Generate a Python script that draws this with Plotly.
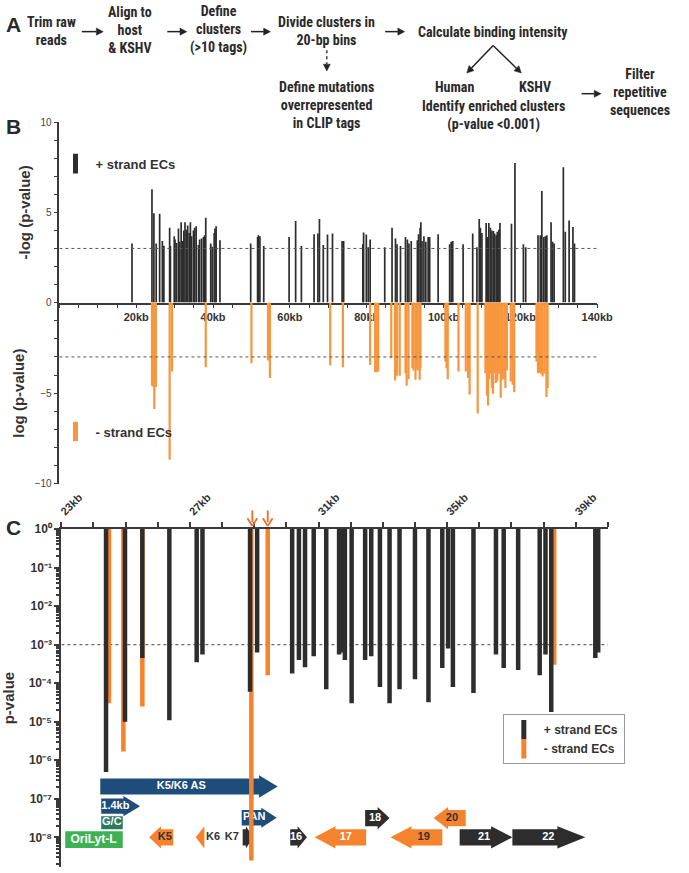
import math
import plotly.graph_objects as go

W, H = 689, 873
def px(x):
    return x / W
def py(y):
    return 1 - y / H

# ---------------- Panel B data (KSHV genome, kb) ----------------
plus_kb = [18.9, 24.1, 24.6, 25.2, 26.1, 26.8, 27.2, 28.7, 28.9, 29.9,
           30.1, 30.5, 31.0, 31.3, 31.7, 32.1, 32.4, 32.7, 33.1, 33.4,
           33.8, 34.1, 34.4, 34.9, 35.2, 35.6, 36.2, 36.5, 37.0, 37.5,
           37.8, 38.1, 39.4, 39.8, 40.3, 40.5, 40.8, 41.8, 49.8, 51.6,
           51.8, 52.2, 53.2, 59.8, 61.5, 63.0, 66.3, 67.3, 67.7, 68.7,
           69.8, 71.1, 73.6, 74.0, 79.0, 79.2, 79.9, 80.4, 80.9, 84.7,
           86.6, 87.5, 87.9, 88.8, 90.1, 90.6, 91.0, 91.6, 93.2, 93.5,
           93.9, 94.1, 94.4, 94.9, 95.4, 96.0, 96.4, 98.6, 101.6, 102.0,
           102.4, 105.1, 107.6, 108.7, 109.3, 109.6, 110.0, 111.1, 111.5, 111.8,
           112.2, 112.6, 113.0, 113.3, 113.7, 114.0, 114.4, 114.7, 117.7, 118.6,
           120.8, 121.4, 124.6, 125.2, 125.6, 126.1, 126.5, 126.9, 128.0, 128.4,
           128.8, 131.2, 131.7, 132.7, 133.7, 134.1]
plus_neglogp = [3.28, 6.28, 4.95, 3.28, 4.92, 3.42, 3.15, 4.15, 3.13, 3.68,
                3.50, 3.30, 4.10, 3.37, 4.46, 3.42, 4.00, 4.46, 4.04, 4.28,
                3.86, 4.46, 3.68, 4.00, 4.15, 4.23, 3.19, 3.50, 3.55, 3.64,
                3.73, 4.70, 3.28, 3.10, 3.86, 4.10, 4.23, 3.46, 3.28, 3.64,
                3.73, 3.68, 3.13, 3.64, 4.52, 3.13, 3.79, 3.83, 4.64, 3.19,
                3.77, 3.83, 3.42, 3.42, 3.24, 3.88, 3.77, 3.06, 3.50, 3.06,
                4.15, 3.55, 3.24, 3.13, 3.64, 3.50, 3.28, 3.42, 3.46, 3.79,
                4.15, 4.46, 3.42, 3.68, 3.37, 3.64, 3.64, 3.79, 3.24, 3.37,
                3.42, 3.24, 3.83, 3.06, 4.64, 4.15, 3.86, 4.41, 3.64, 4.41,
                4.15, 4.00, 3.97, 3.83, 3.73, 3.92, 4.04, 4.41, 4.37, 7.74,
                3.24, 3.06, 3.73, 3.73, 6.19, 3.64, 3.68, 3.73, 4.46, 3.37,
                3.28, 7.50, 3.92, 4.55, 4.19, 3.28]

minus_kb = [24.1, 24.5, 24.7, 25.1, 28.7, 29.3, 38.1, 50.0, 54.3, 54.8,
            70.5, 73.8, 80.9, 82.2, 82.6, 83.0, 86.4, 87.4, 87.9, 88.6,
            90.1, 90.4, 90.9, 91.9, 92.2, 92.7, 93.0, 93.3, 93.8, 94.0,
            100.5, 100.8, 101.1, 103.9, 105.8, 106.4, 106.8, 108.9, 110.9, 111.3,
            111.6, 111.9, 112.2, 112.6, 112.9, 113.2, 113.6, 114.0, 114.4, 114.9,
            115.3, 115.8, 116.1, 116.5, 117.5, 118.0, 118.4, 124.2, 124.6, 124.9,
            125.4, 125.8, 126.3, 126.8, 127.1]
minus_logp = [-4.59, -4.66, -5.87, -4.66, -8.67, -3.81, -3.57, -3.35, -3.20, -4.17,
              -3.48, -3.57, -3.44, -3.84, -3.84, -3.81, -3.08, -4.30, -4.04, -4.04,
              -3.90, -4.59, -4.23, -3.62, -3.75, -4.26, -3.62, -3.75, -4.26, -3.62,
              -3.26, -3.62, -4.23, -3.81, -3.81, -4.17, -5.08, -6.12, -3.90, -5.14,
              -5.68, -4.23, -3.93, -4.72, -5.03, -3.90, -4.44, -4.35, -3.93, -5.26,
              -4.26, -4.23, -4.72, -3.75, -4.35, -4.54, -4.95, -3.26, -3.90, -3.86,
              -3.93, -4.08, -3.93, -5.21, -4.72]
b_threshold = 3
b_xticks = [20, 40, 60, 80, 100, 120, 140]

# ---------------- Panel C data (23-40 kb) ----------------
c_plus_kb = [24.39, 24.98, 25.52, 26.36, 27.21, 27.39, 28.87, 29.09, 30.18, 30.39,
             30.58, 30.85, 31.24, 31.64, 31.73, 31.82, 32.03, 32.45, 32.64, 32.91,
             33.21, 33.52, 34.00, 34.42, 34.85, 35.03, 35.18, 35.82, 36.52, 36.76,
             37.21, 37.88, 38.06, 38.24, 39.61, 39.70]
c_plus_p = [5e-7, 1e-5, 4.5e-4, 1.1e-5, 3.5e-4, 5.6e-4, 6e-5, 6.3e-4, 1.8e-4, 4e-4,
            2.6e-4, 5e-4, 7e-5, 5.6e-4, 6.3e-4, 4e-4, 3e-5, 4e-4, 5e-4, 8e-5,
            3e-5, 7e-5, 1.26e-4, 3.2e-5, 2.5e-4, 8e-4, 8e-5, 5.6e-5, 5.6e-4, 2.5e-4,
            2.2e-4, 1.6e-4, 5.6e-4, 1.8e-5, 4.5e-4, 6.3e-4]
c_minus_kb = [24.48, 24.93, 25.52, 28.91, 29.42, 38.33]
c_minus_p = [3e-5, 1.7e-6, 2.5e-5, 2.5e-9, 1.6e-4, 3e-4]
c_threshold = 1e-3
c_arrow_kb = [28.94, 29.42]
c_xticks = [23, 27, 31, 35, 39]

gene_names = ["K5/K6 AS", "1.4kb", "PAN", "G/C", "OriLyt-L", "K5", "K6", "K7",
              "16", "17", "18", "19", "20", "21", "22"]
gene_start = [24.21, 24.24, 28.61, 24.24, 23.12, 25.73, 27.18, 28.64,
              30.12, 30.88, 32.45, 33.24, 34.58, 35.39, 37.03]
gene_end = [29.73, 25.45, 29.70, 24.91, 24.91, 26.48, 27.45, 28.97,
            30.64, 32.48, 33.21, 34.85, 35.58, 37.03, 39.30]
gene_strand = [1, 1, 1, 0, 0, -1, -1, 1, 1, -1, 1, -1, -1, 1, 1]
gene_kind = ["ncRNA", "ncRNA", "ncRNA", "gc", "ori", "orf", "orf", "orf",
             "orf", "orf", "orf", "orf", "orf", "orf", "orf"]
gene_track = [-6.68, -7.19, -7.49, -7.62, -8.06, -8.0, -8.0, -8.0,
              -8.0, -8.0, -7.5, -8.0, -7.5, -8.0, -8.0]   # log10 track level
gene_label_kb = [26.73, 24.68, 29.0, 24.57, 24.0, 26.22, 27.72, 28.30,
                 30.30, 31.85, 32.76, 34.27, 35.15, 36.15, 38.15]

# ---------------- styles ----------------
DARK = "#2d2d2d"
ORANGE_B = "#f7963e"
ORANGE_C = "#f5822d"
NAVY = "#1f4d7b"
GC_GREEN = "#2c7a5e"
ORI_GREEN = "#3db153"
AXIS = "#3a3a3a"
TXT = "#333333"
FONT = "Liberation Sans, Arial, sans-serif"
NARROW = "Liberation Sans Narrow, Arial Narrow, Roboto Condensed, Roboto, Liberation Sans, sans-serif"
SUP = str.maketrans("0123456789-", "⁰¹²³⁴⁵⁶⁷⁸⁹⁻")


def segs(xs, ys, base):
    X, Y = [], []
    for x, y in zip(xs, ys):
        X += [x, x, None]
        Y += [base, y, None]
    return X, Y


fig = go.Figure()

# ---------- Panel B ----------
X, Y = segs(plus_kb, plus_neglogp, 0)
fig.add_trace(go.Scatter(x=X, y=Y, mode="lines", line=dict(color=DARK, width=1.7),
                         xaxis="x", yaxis="y", showlegend=False, hoverinfo="skip"))
X, Y = segs(minus_kb, minus_logp, 0)
fig.add_trace(go.Scatter(x=X, y=Y, mode="lines", line=dict(color=ORANGE_B, width=2.2),
                         xaxis="x", yaxis="y2", showlegend=False, hoverinfo="skip"))
fig.add_trace(go.Scatter(x=[0, 140], y=[b_threshold, b_threshold], mode="lines",
                         line=dict(color="#555", width=1, dash="dot"),
                         xaxis="x", yaxis="y", showlegend=False, hoverinfo="skip"))
fig.add_trace(go.Scatter(x=[0, 140], y=[-b_threshold, -b_threshold], mode="lines",
                         line=dict(color="#555", width=1, dash="dot"),
                         xaxis="x", yaxis="y2", showlegend=False, hoverinfo="skip"))
fig.add_trace(go.Scatter(x=[None], y=[None], mode="markers", name="+ strand ECs",
                         marker=dict(symbol="line-ns", size=14, line=dict(width=5, color=DARK)),
                         xaxis="x", yaxis="y", legend="legend"))
fig.add_trace(go.Scatter(x=[None], y=[None], mode="markers", name="- strand ECs",
                         marker=dict(symbol="line-ns", size=14, line=dict(width=5, color=ORANGE_B)),
                         xaxis="x", yaxis="y2", legend="legend2"))

# ---------- Panel C ----------
fig.add_trace(go.Scatter(x=[23, 40], y=[c_threshold, c_threshold], mode="lines",
                         line=dict(color="#444", width=1, dash="dot"),
                         xaxis="x2", yaxis="y3", showlegend=False, hoverinfo="skip"))

kind_color = {"ncRNA": NAVY, "gc": GC_GREEN, "ori": ORI_GREEN}
for i, name in enumerate(gene_names):
    s, e, st, lv = gene_start[i], gene_end[i], gene_strand[i], gene_track[i]
    if gene_kind[i] == "orf":
        col = DARK if st > 0 else ORANGE_C
    else:
        col = kind_color[gene_kind[i]]
    bh, hh = (0.21, 0.29) if gene_kind[i] != "ncRNA" or name == "K5/K6 AS" else (0.2, 0.26)
    head = min(0.33 * (e - s) + 0.12, e - s) if st != 0 else 0
    if name == "K6":
        head = e - s
    if name == "K5/K6 AS":
        head = 0.58
    if st == 0:
        bh = 0.17 if gene_kind[i] == "gc" else 0.22
        xs = [s, e, e, s, s]
        es = [lv - bh, lv - bh, lv + bh, lv + bh, lv - bh]
    elif st > 0:
        b = e - head
        xs = [s, b, b, e, b, b, s, s]
        es = [lv - bh, lv - bh, lv - hh, lv, lv + hh, lv + bh, lv + bh, lv - bh]
    else:
        b = s + head
        xs = [e, b, b, s, b, b, e, e]
        es = [lv - bh, lv - bh, lv - hh, lv, lv + hh, lv + bh, lv + bh, lv - bh]
    fig.add_trace(go.Scatter(x=xs, y=[10 ** v for v in es], mode="lines", fill="toself",
                             fillcolor=col, line=dict(width=0, color=col),
                             xaxis="x2", yaxis="y3", showlegend=False, hoverinfo="skip"))

for i, name in enumerate(gene_names):
    outside = name in ("K6", "K7")
    dark_text = outside or name in ("K5", "19", "20")
    fig.add_trace(go.Scatter(x=[gene_label_kb[i]], y=[10 ** gene_track[i]], mode="text",
                             text=[name],
                             textfont=dict(family=FONT, size=12 if name == "OriLyt-L" else 11,
                                           color=TXT if dark_text else "white", weight="bold"),
                             xaxis="x2", yaxis="y3", showlegend=False, hoverinfo="skip"))

X, Y = segs(c_minus_kb, c_minus_p, 1)
fig.add_trace(go.Scatter(x=X, y=Y, mode="lines", line=dict(color=ORANGE_C, width=4.5),
                         xaxis="x2", yaxis="y3", showlegend=False, hoverinfo="skip"))
X, Y = segs(c_plus_kb, c_plus_p, 1)
fig.add_trace(go.Scatter(x=X, y=Y, mode="lines", line=dict(color=DARK, width=4.5),
                         xaxis="x2", yaxis="y3", showlegend=False, hoverinfo="skip"))
fig.add_trace(go.Scatter(x=[None], y=[None], mode="markers", name="+ strand ECs",
                         marker=dict(symbol="line-ns", size=14, line=dict(width=5, color=DARK)),
                         xaxis="x2", yaxis="y3", legend="legend3"))
fig.add_trace(go.Scatter(x=[None], y=[None], mode="markers", name="- strand ECs",
                         marker=dict(symbol="line-ns", size=14, line=dict(width=5, color=ORANGE_C)),
                         xaxis="x2", yaxis="y3", legend="legend3"))

# ---------- annotations & drawn arrows ----------
ann = []
shapes = []

def text(t, x, y, size=14, family=NARROW, color="#2a2a2a"):
    ann.append(dict(text=t, x=px(x), y=py(y), xref="paper", yref="paper", showarrow=False,
                    xanchor="center", yanchor="middle", align="center",
                    font=dict(family=family, size=size, color=color, weight="bold")))

def arrow(x0, y0, x1, y1, color="#222", width=1.5, head=7.0, half=3.6, dash=None):
    dx, dy = x1 - x0, y1 - y0
    L = math.hypot(dx, dy)
    ux, uy = dx / L, dy / L
    bx, by = x1 - ux * head, y1 - uy * head
    line = dict(color=color, width=width)
    if dash:
        line["dash"] = dash
    shapes.append(dict(type="line", xref="paper", yref="paper",
                       x0=px(x0), y0=py(y0), x1=px(bx), y1=py(by), line=line))
    pts = [(x1, y1), (bx - uy * half, by + ux * half), (bx + uy * half, by - ux * half)]
    path = "M %.5f %.5f L %.5f %.5f L %.5f %.5f Z" % tuple(
        v for p in pts for v in (px(p[0]), py(p[1])))
    shapes.append(dict(type="path", xref="paper", yref="paper", path=path,
                       fillcolor=color, line=dict(color=color, width=0.5)))

# panel letters
text("A", 11, 18, size=21, family=FONT)
text("B", 11, 121, size=21, family=FONT)
text("C", 11, 528, size=21, family=FONT)

# panel A flow chart
text("Trim raw<br>reads", 50, 24)
arrow(81, 25, 103, 25)
text("Align to<br>host<br>& KSHV", 131, 23)
arrow(169, 25, 189, 25)
text("Define<br>clusters<br>(>10 tags)", 222, 23)
arrow(255, 25, 275, 25)
text("Divide clusters in<br>20-bp bins", 333, 24)
arrow(393, 25, 413, 25)
text("Calculate binding intensity", 504, 25)
text("Define mutations<br>overrepresented<br>in CLIP tags", 333, 99)
arrow(504, 39, 477, 67)
arrow(504, 39, 533, 67)
text("Human", 464, 81)
text("KSHV", 547, 81)
text("Identify enriched clusters<br>(p-value <0.001)", 504, 110)
arrow(595, 88, 615, 88)
text("Filter<br>repetitive<br>sequences", 655, 86)
arrow(333, 44, 333, 65, width=1.3, dash="dot")

# arrows in panel C pointing at the PAN-region ECs (x in data units)
for k in c_arrow_kb:
    shapes.append(dict(type="line", xref="x2", yref="paper", x0=k, x1=k,
                       y0=py(511), y1=py(523), line=dict(color="#f26b2a", width=1.8)))
    shapes.append(dict(type="line", xref="x2", yref="paper", x0=k - 0.15, x1=k,
                       y0=py(519), y1=py(527), line=dict(color="#f26b2a", width=1.8)))
    shapes.append(dict(type="line", xref="x2", yref="paper", x0=k + 0.15, x1=k,
                       y0=py(519), y1=py(527), line=dict(color="#f26b2a", width=1.8)))

b_ticktext = ["%dkb" % v for v in b_xticks]
c_ticktext = ["%dkb" % v for v in c_xticks]
dec_vals = [10 ** (-k) for k in range(0, 9)]
dec_text = ["10" + str(-k).translate(SUP) for k in range(0, 9)]
minor_vals = [m * 10 ** (-k) for k in range(1, 10) for m in range(2, 10)]

axis_common = dict(showgrid=False, zeroline=False, showline=True, linecolor=AXIS,
                   ticks="outside", tickcolor=AXIS)

fig.update_layout(
    width=W, height=H, margin=dict(l=0, r=0, t=0, b=0),
    paper_bgcolor="white", plot_bgcolor="white",
    font=dict(family=FONT, color=TXT),
    annotations=ann, shapes=shapes,
    xaxis=dict(domain=[px(58), px(611)], range=[0, 140], anchor="y",
               tickvals=b_xticks, ticktext=b_ticktext, ticklen=4, linewidth=1.5,
               minor=dict(dtick=5, tick0=0, ticks="outside", ticklen=4, tickcolor=AXIS),
               tickfont=dict(size=11, color=TXT, weight="bold"), **axis_common),
    yaxis=dict(domain=[py(300), py(117)], range=[0, 10], anchor="x",
               tickvals=[0, 5, 10], ticklen=4, linewidth=1.5,
               minor=dict(dtick=1, tick0=0, ticks="outside", ticklen=4, tickcolor=AXIS),
               tickfont=dict(size=10, color="#444"),
               title=dict(text="-log (p-value)", font=dict(size=15, color=TXT, weight="bold"),
                          standoff=6),
               **axis_common),
    yaxis2=dict(domain=[py(484), py(300)], range=[-10, 0], anchor="x",
                tickvals=[-10, -5], ticklen=4, linewidth=1.5,
                minor=dict(dtick=1, tick0=0, ticks="outside", ticklen=4, tickcolor=AXIS),
                tickfont=dict(size=10, color="#444"),
                title=dict(text="log (p-value)", font=dict(size=15, color=TXT, weight="bold"),
                           standoff=6),
                **axis_common),
    xaxis2=dict(domain=[px(60), px(622)], range=[23, 40], anchor="y3", side="top",
                tickvals=c_xticks, ticktext=c_ticktext, tickangle=-45, ticklen=5,
                linewidth=2, tickwidth=1.5,
                minor=dict(dtick=1, tick0=23, ticks="outside", ticklen=5, tickwidth=1.5,
                           tickcolor=AXIS),
                tickfont=dict(size=11, color=TXT, weight="bold"), **axis_common),
    yaxis3=dict(domain=[0, py(530)], type="log", range=[-8.77, 0], anchor="x2",
                tickvals=dec_vals, ticktext=dec_text, ticklen=5, linewidth=2, tickwidth=1.5,
                tickfont=dict(size=12, color=TXT, weight="bold"),
                minor=dict(tickvals=minor_vals, ticks="outside", ticklen=3, tickcolor=AXIS),
                title=dict(text="p-value", font=dict(size=15, color=TXT, weight="bold"),
                           standoff=10),
                **axis_common),
    legend=dict(x=px(54), y=py(159), xanchor="left", yanchor="middle",
                bgcolor="rgba(0,0,0,0)", borderwidth=0,
                font=dict(size=13, color=TXT, weight="bold")),
    legend2=dict(x=px(54), y=py(431), xanchor="left", yanchor="middle",
                 bgcolor="rgba(0,0,0,0)", borderwidth=0,
                 font=dict(size=13, color=TXT, weight="bold")),
    legend3=dict(x=px(514), y=py(718), xanchor="left", yanchor="top",
                 bgcolor="white", bordercolor="#999", borderwidth=1,
                 font=dict(size=12, color=TXT, weight="bold")),
)

fig.write_html("out.html")
